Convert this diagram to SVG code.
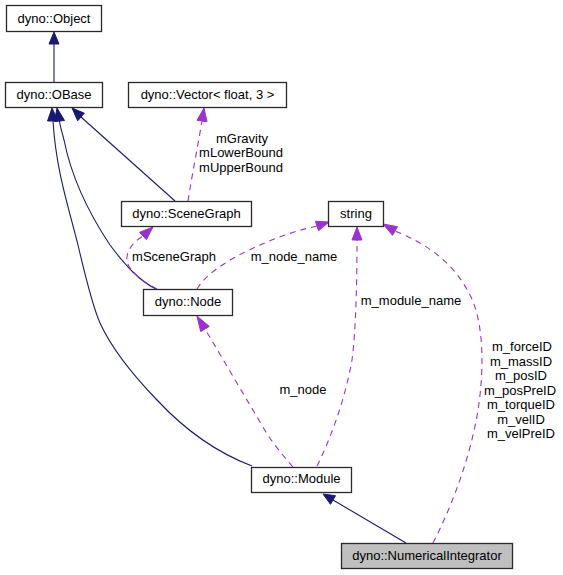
<svg xmlns="http://www.w3.org/2000/svg" width="563" height="575" viewBox="0 0 563 575">
<style>
text{font-family:"Liberation Sans",Arial,sans-serif;font-size:13px;fill:#000}
.n rect{fill:#fff;stroke:#2a2a2a;stroke-width:1.3}
.n text{text-anchor:middle}
#root rect{fill:#bfbfbf}
.inh{fill:none;stroke:#191970;stroke-width:1.1}
.ah{fill:#191970;stroke:#191970}
.use{fill:none;stroke:#9a32cd;stroke-width:1.1;stroke-dasharray:6,5}
.uh{fill:#9a32cd;stroke:#9a32cd}
.lbl{text-anchor:middle}
</style>
<rect width="563" height="575" fill="#fff"/>
<g id="edges">
<path class="inh" d="M54,44 L54,82"/>
<polygon class="ah" points="54,32 49,44 59,44"/>
<path class="inh" d="M252,466 C215,452 185,430 157,400 C130,372 110,345 100,323 C92,305 85,275 78,245 C68,205 56,170 53,121"/>
<polygon class="ah" points="52,108 47.5,121 58,121"/>
<path class="inh" d="M158,290 C140,282 125,265 110,245 C90,215 72,180 64,140 C62,132 60,126 59.5,121"/>
<polygon class="ah" points="57,108 54.5,121.5 64.5,120.5"/>
<path class="inh" d="M175,201 L81,117"/>
<polygon class="ah" points="72,108 84.3,113.2 77.7,120.8"/>
<path class="inh" d="M406,543 L333,500"/>
<polygon class="ah" points="323,494 335.5,495.7 330.5,504.3"/>
<path class="use" d="M188,201 C192,175 198,145 202,121"/>
<polygon class="uh" points="204,108 197,120.3 207,121.7"/>
<path class="use" d="M157,289 C140,280 125,268 127,257 C128,248 135,241 143,236"/>
<polygon class="uh" points="153,227 139.6,232.3 146.4,239.7"/>
<path class="use" d="M197,289 C205,275 225,262 245,252 C270,240 290,232 317,226"/>
<polygon class="uh" points="329,222 315.4,221.3 318.6,230.7"/>
<path class="use" d="M293,467 C280,452 270,440 260,422 L205,329"/>
<polygon class="uh" points="197,316 209.3,326.4 200.7,331.6"/>
<path class="use" d="M317,466 C330,440 345,400 352,360 C356,330 357,280 357,240"/>
<polygon class="uh" points="357,227 352,240 362,240"/>
<path class="use" d="M433,543 C450,510 470,460 478,410 C485,365 483,320 470,295 C455,265 430,245 395,231"/>
<polygon class="uh" points="383,224 397.5,226.7 392.5,235.3"/>
<text class="lbl" x="242" y="142.5">mGravity</text>
<text class="lbl" x="241" y="157">mLowerBound</text>
<text class="lbl" x="241" y="171.5">mUpperBound</text>
<text class="lbl" x="174" y="261">mSceneGraph</text>
<text class="lbl" x="294" y="261">m_node_name</text>
<text class="lbl" x="411" y="305">m_module_name</text>
<text class="lbl" x="303" y="394">m_node</text>
<text class="lbl" x="522" y="351">m_forceID</text>
<text class="lbl" x="521" y="365.5">m_massID</text>
<text class="lbl" x="521" y="380">m_posID</text>
<text class="lbl" x="520" y="394.5">m_posPreID</text>
<text class="lbl" x="521" y="409">m_torqueID</text>
<text class="lbl" x="521" y="423.5">m_velID</text>
<text class="lbl" x="521" y="438">m_velPreID</text>
</g>
<g id="object" class="n"><rect x="6.5" y="5.5" width="95" height="26"/><text x="54" y="22.5">dyno::Object</text></g>
<g id="obase" class="n"><rect x="5.5" y="82.5" width="97" height="25"/><text x="54" y="98.5">dyno::OBase</text></g>
<g id="vector" class="n"><rect x="128.5" y="82.5" width="158" height="25"/><text x="207.5" y="98.5">dyno::Vector&lt; float, 3 &gt;</text></g>
<g id="scenegraph" class="n"><rect x="121.5" y="201.5" width="130" height="25"/><text x="186.5" y="217.5">dyno::SceneGraph</text></g>
<g id="string" class="n"><rect x="328.5" y="201.5" width="55" height="25"/><text x="356" y="217.5">string</text></g>
<g id="node" class="n"><rect x="143.5" y="289.5" width="89" height="26"/><text x="188" y="305.5">dyno::Node</text></g>
<g id="module" class="n"><rect x="251.5" y="467.5" width="100" height="25"/><text x="301.5" y="483">dyno::Module</text></g>
<g id="root" class="n"><rect x="341.5" y="543.5" width="171" height="25"/><text x="427" y="559.5">dyno::NumericalIntegrator</text></g>
</svg>
